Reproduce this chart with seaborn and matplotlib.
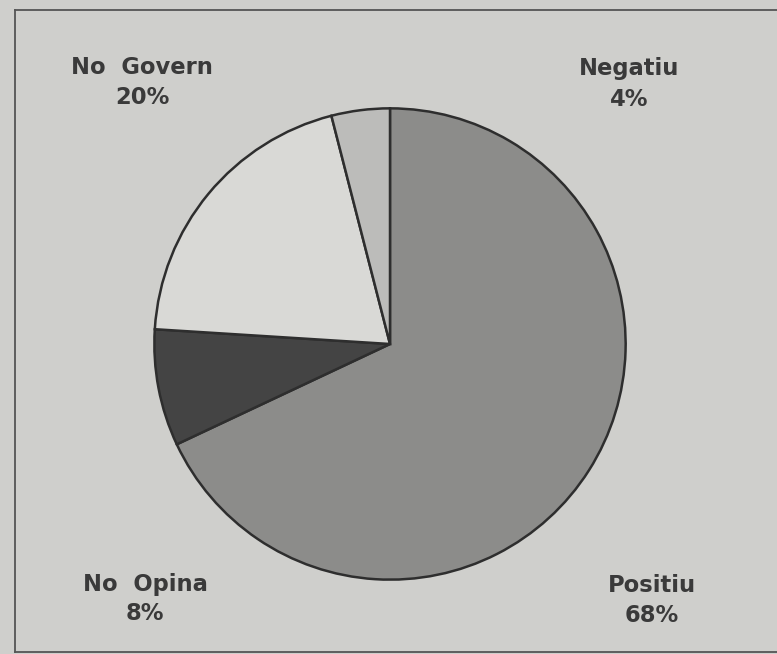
import matplotlib
matplotlib.use("Agg")
import matplotlib.pyplot as plt
import seaborn as sns

# Slices, clockwise from 12 o'clock
labels = ["Positiu", "No Opina", "No Govern", "Negatiu"]
shares = [68, 8, 20, 4]
colors = ["#8c8c8a", "#444444", "#d9d9d6", "#bcbcba"]

bg = "#cfcfcc"
ink = "#3a3a3a"

sns.set_theme(style="white")
plt.rcParams["font.family"] = ["DejaVu Sans"]

fig = plt.figure(figsize=(7.77, 6.54), dpi=100, facecolor=bg)

# frame (left, top, bottom edges only, right edge is cut off in the scan)
frame = fig.add_axes([15 / 777, 2 / 654, 1.0, 642 / 654])
frame.set_facecolor(bg)
frame.set_xticks([])
frame.set_yticks([])
for side in ["left", "top", "bottom"]:
    frame.spines[side].set_color("#555555")
    frame.spines[side].set_linewidth(1.3)
frame.spines["right"].set_visible(False)

# pie
cx, cy, r = 390, 344, 238
ax = fig.add_axes([(cx - r) / 777, 1 - (cy + r) / 654, 2 * r / 777, 2 * r / 654])
ax.set_facecolor("none")
ax.pie(shares, colors=colors, startangle=90, counterclock=False,
       wedgeprops=dict(edgecolor="#2e2e2e", linewidth=1.8))
ax.set_xlim(-1.01, 1.01)
ax.set_ylim(-1.01, 1.01)
ax.axis("off")

# corner labels
label_pos = {
    "Positiu": (652, 586),
    "No Opina": (145, 584),
    "No Govern": (142, 68),
    "Negatiu": (629, 69),
}
for name, val in zip(labels, shares):
    x, y = label_pos[name]
    fig.text(x / 777, 1 - y / 654, name.replace(" ", "  "), ha="center", va="center",
             fontsize=16.3, fontweight="bold", color=ink)
    fig.text(x / 777, 1 - (y + 30) / 654, f"{val}%", ha="center", va="center",
             fontsize=16.3, fontweight="bold", color=ink)

fig.savefig("out.png", dpi=100, facecolor=bg)
